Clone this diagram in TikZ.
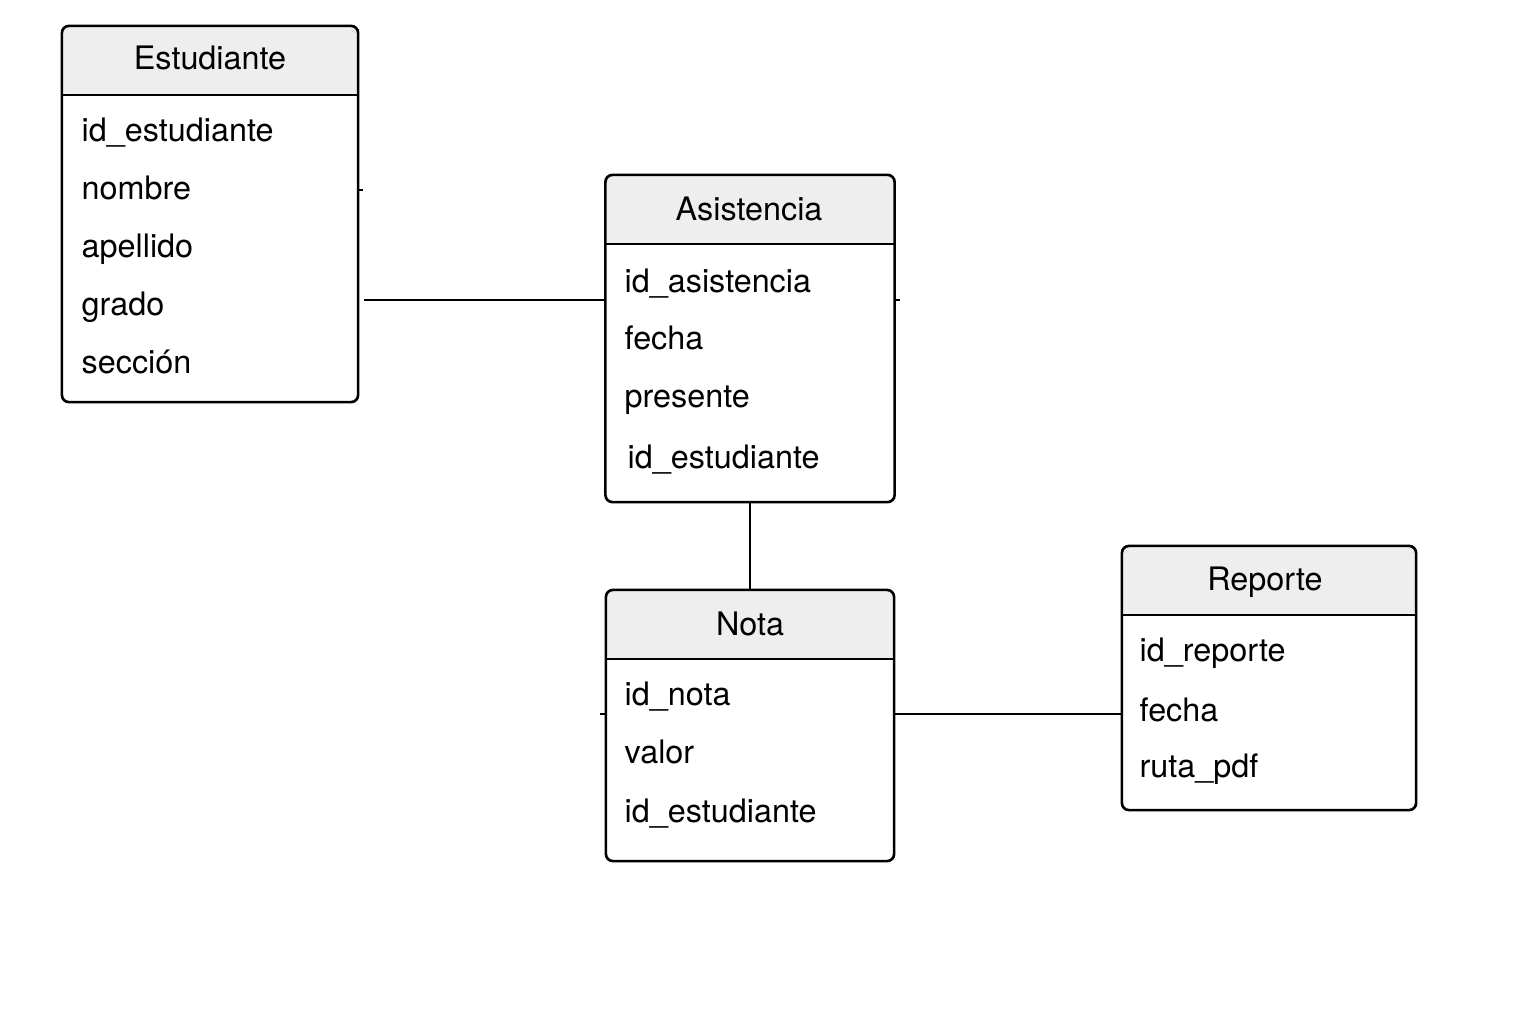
\documentclass[tikz,border=0pt]{standalone}
\usepackage{fontspec}
\setmainfont{TeX Gyre Heros}
\definecolor{cabeza}{HTML}{EEEEEE}
\tikzset{
    tabla/.style={draw, line width=0.75pt, rounded corners=0.07cm, fill=white,
        path picture={
            \fill[cabeza] (path picture bounding box.north west) rectangle ([yshift=-0.69cm]path picture bounding box.north east);
            \draw[line width=0.75pt] ([yshift=-0.69cm]path picture bounding box.north west) -- ([yshift=-0.69cm]path picture bounding box.north east);}},
    titulo/.style={anchor=base, inner sep=0pt, font=\fontsize{9.2}{11}\selectfont},
    campo/.style={anchor=base west, inner sep=0pt, font=\fontsize{9.2}{11}\selectfont},
    enlace/.style={line width=0.7pt}
}

\begin{document}
\begin{tikzpicture}[x=0.01cm, y=-0.01cm]
    \useasboundingbox (0,0) rectangle (1536,1024);
    % tablas
    \node[tabla, minimum width=2.96cm, minimum height=3.76cm] (est) at (210,214) {};
    \node[tabla, minimum width=2.89cm, minimum height=3.27cm] (asis) at (750,338.5) {};
    \node[tabla, minimum width=2.88cm, minimum height=2.71cm] (nota) at (750,725.5) {};
    \node[tabla, minimum width=2.94cm, minimum height=2.64cm] (rep) at (1269,678) {};
    % titulos
    \node[titulo] (est-t) at (210,70) {Estudiante};
    \node[titulo] (asis-t) at (749,220) {Asistencia};
    \node[titulo] (nota-t) at (750,635) {Nota};
    \node[titulo] (rep-t) at (1265,590) {Reporte};
    % campos
    \foreach \t/\y [count=\i] in {id\_estudiante/141, nombre/199, apellido/257, grado/315, sección/373}
        \node[campo] (est-\i) at (81,\y) {\t};
    \foreach \t/\y/\x [count=\i] in {id\_asistencia/292/624, fecha/349/624, presente/407/624, id\_estudiante/468/627}
        \node[campo] (asis-\i) at (\x,\y) {\t};
    \foreach \t/\y [count=\i] in {id\_nota/705, valor/763, id\_estudiante/822}
        \node[campo] (nota-\i) at (624,\y) {\t};
    \foreach \t/\y [count=\i] in {id\_reporte/661, fecha/721, ruta\_pdf/777}
        \node[campo] (rep-\i) at (1139,\y) {\t};
    % relaciones
    \coordinate (r1) at (0,300);
    \coordinate (r2) at (0,714);
    \coordinate (s1) at (0,190);
    \draw[enlace] ([xshift=0.05cm]est.east |- r1) -- (asis.west |- r1);
    \draw[enlace] (asis.south) -- (nota.north);
    \draw[enlace] (nota.east |- r2) -- (rep.west |- r2);
    \draw[enlace] (est.east |- s1) -- ++(4,0);
    \draw[enlace] (asis.east |- r1) -- ++(4,0);
    \draw[enlace] (nota.west |- r2) -- ++(-5,0);
\end{tikzpicture}
\end{document}
